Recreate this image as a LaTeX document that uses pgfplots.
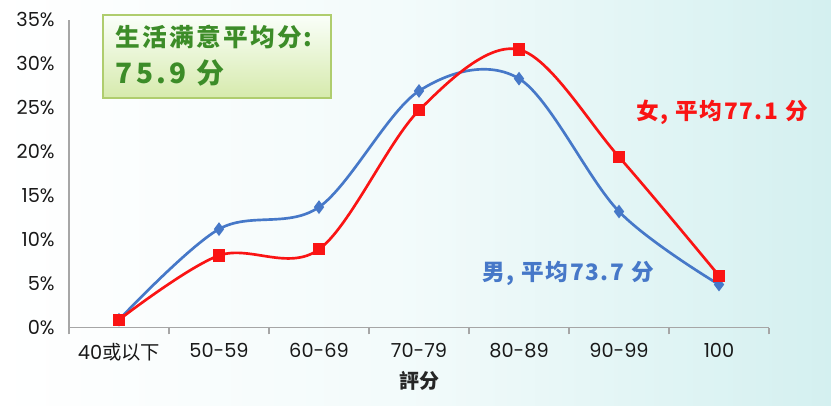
\documentclass[border=0pt]{standalone}
\usepackage{fontspec}
\setmainfont{Poppins}
\newfontfamily\cjk{Noto Sans CJK SC}
\usepackage{pgfplots}
\pgfplotsset{compat=1.18}
\definecolor{maleblue}{RGB}{70,120,200}
\definecolor{femred}{RGB}{250,20,20}
\definecolor{boxgreen}{RGB}{60,140,40}
\definecolor{bgcyan}{RGB}{212,240,240}

\begin{document}
\begin{tikzpicture}[x=0.75pt,y=0.75pt]
  \useasboundingbox (0,0) rectangle (831,406);
  \shade[left color=white, right color=bgcyan, middle color=white!70!bgcyan] (0,0) rectangle (831,406);

  \begin{axis}[
    at={(69,89)}, anchor=south west,
    scale only axis, width=525pt, height=231pt,
    xmin=-0.5, xmax=6.5, ymin=0, ymax=35,
    axis lines=left, axis line style={gray!70, line width=0.8pt, -},
    xtick={0,...,6},
    xticklabels={{40{\cjk 或以下}},50-59,60-69,70-79,80-89,90-99,100},
    major x tick style={draw=none},
    minor xtick={-0.5,0.5,...,6.5},
    minor x tick style={gray!70, line width=0.8pt},
    minor tick length=5pt,
    tick align=outside,
    ytick={0,5,...,35},
    major y tick style={draw=none},
    yticklabel={\pgfmathprintnumber{\tick}\%},
    /pgf/number format/assume math mode=true,
    ticklabel style={font=\fontsize{14.5}{14.5}\selectfont, text=black!90},
    xticklabel style={yshift=-4pt},
    yticklabel style={xshift=-3pt},
    xlabel={\cjk\bfseries 評分},
    xlabel style={font=\fontsize{15}{15}\selectfont, text=black!85, yshift=-1pt},
    clip=false,
  ]
    \addplot[maleblue, line width=2pt, smooth, tension=0.55,
      mark=diamond*, mark size=3.5pt, mark options={fill=maleblue}]
      coordinates {(0,0.9) (1,11.2) (2,13.7) (3,26.9) (4,28.3) (5,13.2) (6,4.9)};
    \addplot[femred, line width=2pt, smooth, tension=0.55,
      mark=square*, mark size=3.6pt, mark options={fill=femred}]
      coordinates {(0,0.9) (1,8.2) (2,8.9) (3,24.7) (4,31.6) (5,19.4) (6,5.9)};
  \end{axis}

  % title box
  \shade[top color=white!90!green!20, bottom color={rgb,255:red,214;green,234;blue,172},
    draw={rgb,255:red,175;green,205;blue,110}, line width=0.8pt]
    (103,308) rectangle (331,391);
  \node[anchor=west, text=boxgreen, font=\cjk\bfseries\fontsize{18.5}{18.5}\selectfont\addfontfeature{LetterSpace=9}]
    at (111,369) {生活满意平均分:};
  \node[anchor=west, text=boxgreen, font=\cjk\bfseries\fontsize{21}{21}\selectfont\addfontfeature{LetterSpace=12}]
    at (111,333) {75.9 分};

  \node[anchor=west, text=femred, font=\cjk\bfseries\fontsize{17}{17}\selectfont\addfontfeature{LetterSpace=7}]
    at (632,294) {女, 平均77.1 分};
  \node[anchor=west, text=maleblue, font=\cjk\bfseries\fontsize{17}{17}\selectfont\addfontfeature{LetterSpace=7}]
    at (478,133) {男, 平均73.7 分};
\end{tikzpicture}
\end{document}
